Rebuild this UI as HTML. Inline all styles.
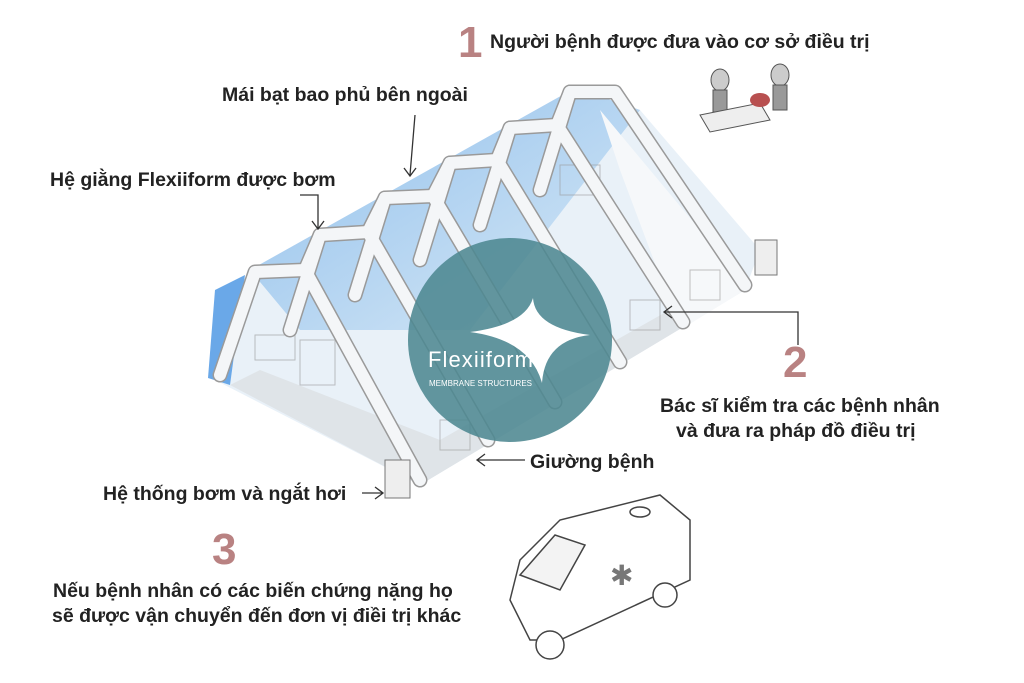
<!DOCTYPE html>
<html><head><meta charset="utf-8"><style>
html,body{margin:0;padding:0;background:#fff}
body{width:1024px;height:683px;position:relative;overflow:hidden;font-family:"Liberation Sans","Noto Sans CJK SC",sans-serif}
.t{position:absolute;font-size:19.5px;color:#222;font-weight:600;white-space:nowrap}
.n{position:absolute;font-size:44px;color:#b98282;font-weight:700}
</style></head><body>
<svg width="1024" height="683" style="position:absolute;left:0;top:0">
<defs>
<linearGradient id="g" x1="0" y1="0" x2="1" y2="1">
<stop offset="0" stop-color="#7fb6ea"/><stop offset="1" stop-color="#d6e8f6"/></linearGradient>
</defs>
<!-- tent body -->
<polygon points="215,380 250,270 575,88 640,110 760,250 745,290 420,485" fill="#e9f1f8"/>
<polygon points="250,270 575,88 640,110 470,330 300,330" fill="url(#g)" opacity="0.85"/>
<polygon points="215,290 245,275 230,385 208,378" fill="#6aa8e8"/>
<polygon points="230,385 420,485 745,290 740,270 440,440 260,370" fill="#dfe4e8"/>
<polygon points="600,110 700,230 745,290 680,330 620,170" fill="#f6f8fa"/>
<g stroke="#999" stroke-width="1" fill="none" opacity="0.6">
<rect x="255" y="335" width="40" height="25"/><rect x="300" y="340" width="35" height="45"/>
<rect x="690" y="270" width="30" height="30"/><rect x="630" y="300" width="30" height="30"/>
<rect x="560" y="165" width="40" height="30"/><rect x="440" y="420" width="30" height="30"/>
</g>
<!-- arches -->
<g fill="none" stroke-linecap="round" stroke-linejoin="round">
<g stroke="#9a9a9a" stroke-width="15">
<path d="M220,375 L255,272 L305,270 L420,480"/>
<path d="M290,330 L320,235 L368,232 L488,440"/>
<path d="M355,295 L385,198 L433,196 L555,402"/>
<path d="M420,260 L450,163 L497,160 L620,362"/>
<path d="M480,225 L510,128 L557,125 L683,322"/>
<path d="M540,190 L570,92 L615,92 L745,285"/>
<path d="M305,270 L320,235 M368,232 L385,198 M433,196 L450,163 M497,160 L510,128 M557,125 L570,92"/>
</g>
<g stroke="#f4f6f8" stroke-width="12">
<path d="M220,375 L255,272 L305,270 L420,480"/>
<path d="M290,330 L320,235 L368,232 L488,440"/>
<path d="M355,295 L385,198 L433,196 L555,402"/>
<path d="M420,260 L450,163 L497,160 L620,362"/>
<path d="M480,225 L510,128 L557,125 L683,322"/>
<path d="M540,190 L570,92 L615,92 L745,285"/>
<path d="M305,270 L320,235 M368,232 L385,198 M433,196 L450,163 M497,160 L510,128 M557,125 L570,92"/>
</g>
</g>
<rect x="385" y="460" width="25" height="38" fill="#eee" stroke="#777"/>
<rect x="755" y="240" width="22" height="35" fill="#eee" stroke="#777"/>
<!-- pointers -->
<g stroke="#333" stroke-width="1.3" fill="none">
<path d="M415,115 L410,175 M404,168 L410,176 L416,168"/>
<path d="M300,195 L318,195 L318,228 M312,221 L318,229 L324,221"/>
<path d="M798,345 L798,312 L665,312 M672,306 L664,312 L672,318"/>
<path d="M525,460 L478,460 M485,454 L477,460 L485,466"/>
<path d="M362,493 L382,493 M375,487 L383,493 L375,499"/>
</g>
<!-- stretcher group -->
<g stroke="#555" fill="#ccc"><ellipse cx="720" cy="80" rx="9" ry="11"/><ellipse cx="780" cy="75" rx="9" ry="11"/>
<rect x="713" y="90" width="14" height="22" fill="#999"/><rect x="773" y="85" width="14" height="25" fill="#999"/>
<polygon points="700,115 760,103 770,120 710,132" fill="#eee"/>
<ellipse cx="760" cy="100" rx="10" ry="7" fill="#b85050" stroke="none"/></g>
<!-- logo -->
<circle cx="510" cy="340" r="102" fill="#4d8791" opacity="0.88"/>
<path d="M533,298 Q535,328 590,335 Q545,340 542,383 Q530,340 470,332 Q525,325 533,298Z" fill="#fff"/>
<text x="428" y="367" font-size="22" fill="#fff" font-family="Liberation Sans" textLength="105">Flexiiform</text>
<text x="429" y="386" font-size="8" fill="#fff" font-family="Liberation Sans" textLength="103">MEMBRANE STRUCTURES</text>
<!-- ambulance -->
<g stroke="#444" stroke-width="1.5" fill="#fff">
<polygon points="520,560 560,520 660,495 690,520 690,580 560,640 530,640 510,600"/>
<polygon points="520,575 555,535 585,545 560,590" fill="#f3f3f3"/>
<circle cx="550" cy="645" r="14"/><circle cx="665" cy="595" r="12"/>
<ellipse cx="640" cy="512" rx="10" ry="5"/>
</g>
<text x="610" y="585" font-size="28" fill="#777" font-family="DejaVu Sans">✱</text>
</svg>
<div class="n" style="left:458px;top:18px">1</div>
<div class="t" style="left:490px;top:31px">Người bệnh được đưa vào cơ sở điều trị</div>
<div class="t" style="left:222px;top:84px">Mái bạt bao phủ bên ngoài</div>
<div class="t" style="left:50px;top:169px">Hệ giằng Flexiiform được bơm</div>
<div class="n" style="left:783px;top:338px">2</div>
<div class="t" style="left:660px;top:395px">Bác sĩ kiểm tra các bệnh nhân</div>
<div class="t" style="left:676px;top:420px">và đưa ra pháp đồ điều trị</div>
<div class="t" style="left:530px;top:451px">Giường bệnh</div>
<div class="t" style="left:103px;top:483px">Hệ thống bơm và ngắt hơi</div>
<div class="n" style="left:212px;top:525px">3</div>
<div class="t" style="left:53px;top:580px">Nếu bệnh nhân có các biến chứng nặng họ</div>
<div class="t" style="left:52px;top:605px">sẽ được vận chuyển đến đơn vị điềi trị khác</div>
</body></html>
